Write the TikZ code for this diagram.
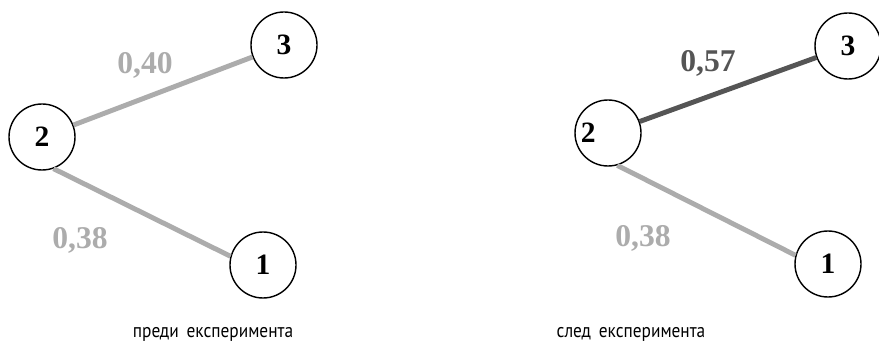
\documentclass[tikz,border=0pt]{standalone}
\usepackage{fontspec}
\setmainfont{Liberation Serif}
\newfontfamily\capfont[FakeStretch=0.88]{PT Sans}
\usepackage{tikz}
\usetikzlibrary{positioning}
\definecolor{edgelight}{RGB}{172, 172, 172}
\definecolor{edgedark}{RGB}{85, 85, 85}

\begin{document}
\begin{tikzpicture}[
    vertex/.style={circle, draw=black, line width=1pt, fill=white, minimum size=1.65cm, inner sep=0pt, font=\fontsize{21}{21}\selectfont\bfseries},
    weight/.style={font=\fontsize{22.5}{22.5}\selectfont\bfseries},
    link/.style={line width=3.5pt},
    caption/.style={font=\capfont\fontsize{14}{16}\selectfont},
]
\useasboundingbox (0, 0) rectangle (21.975, 8.75);

% Before
\node[vertex] (n3) at (7.10, 7.625) {3};
\node[vertex] (n2) at (1.05, 5.325) {2};
\node[vertex] (n1) at (6.575, 2.125) {1};

\draw[link, edgelight] (n2) -- (n3);
\draw[link, edgelight] (n2.-70) -- (n1.165);

\node[weight, text=edgelight] (w23) at (3.625, 7.125) {0,40};
\node[weight, text=edgelight] (w21) at (2.0, 2.75) {0,38};

\node[caption] (before) at (5.325, 0.4) {преди\, експеримента};

% After
\node[vertex] (r3) at (21.2, 7.6) {3};
\node[vertex] (r2) at (15.2, 5.425) {};
\node[vertex, draw=none, fill=none, minimum size=0pt, anchor=west, inner sep=0.5pt] (r2lab) at (r2.west) {2};
\node[vertex] (r1) at (20.7, 2.15) {1};

\draw[link, edgedark] (r2) -- (r3);
\draw[link, edgelight] (r2.-74) -- (r1.165);

\node[weight, text=edgedark] (v23) at (17.7, 7.175) {0,57};
\node[weight, text=edgelight] (v21) at (16.075, 2.8) {0,38};

\node[caption] (after) at (15.775, 0.4) {след\, експеримента};

\end{tikzpicture}
\end{document}
